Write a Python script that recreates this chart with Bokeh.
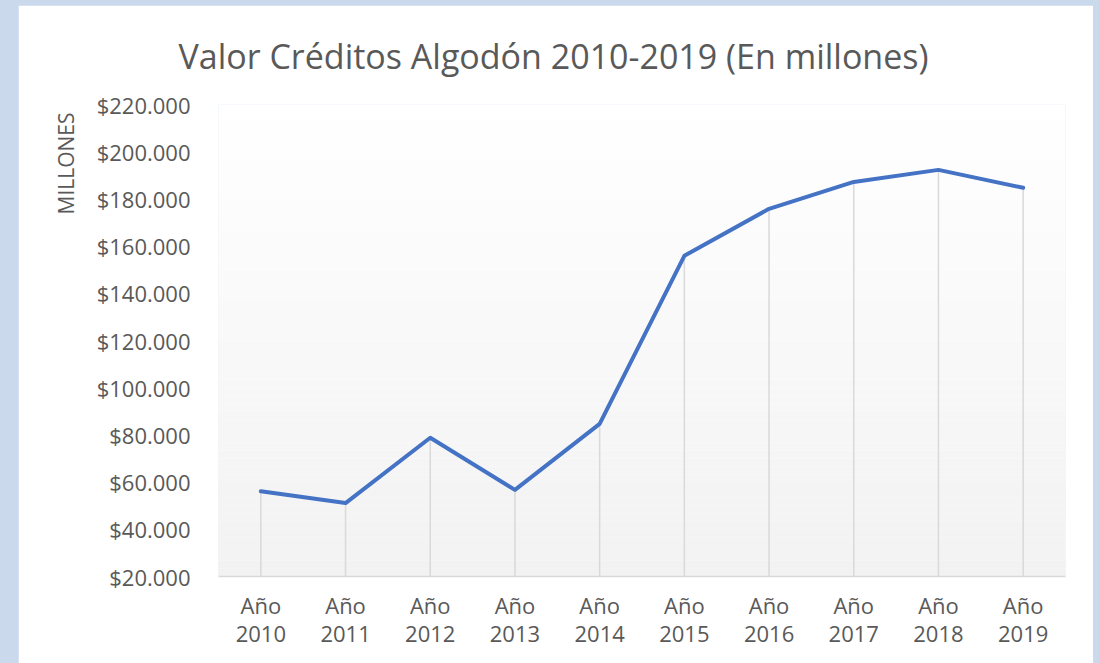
import numpy as np
from bokeh.plotting import figure
from bokeh.models import (Range1d, FixedTicker, Spacer, Row, Column,
                          GlobalInlineStyleSheet, ColumnDataSource, Title)
from bokeh.embed import file_html
from bokeh.resources import INLINE

# ---- data ----
years = ["Año\n2010", "Año\n2011", "Año\n2012", "Año\n2013", "Año\n2014",
         "Año\n2015", "Año\n2016", "Año\n2017", "Año\n2018", "Año\n2019"]
values = [56100, 51100, 78800, 56700, 84700, 155900, 175800, 187200, 192300, 184700]
y_ticks = [20000, 40000, 60000, 80000, 100000, 120000, 140000, 160000, 180000, 200000, 220000]
y_tick_labels = ["$20.000", "$40.000", "$60.000", "$80.000", "$100.000", "$120.000",
                 "$140.000", "$160.000", "$180.000", "$200.000", "$220.000"]
title_text = "Valor Créditos Algodón 2010-2019 (En millones)"
y_title = "MILLONES"

FONT = "Open Sans"
TXT = "#595959"
Y0, Y1 = y_ticks[0], y_ticks[-1]
W, H = 1075, 658

p = figure(x_range=years, y_range=Range1d(Y0, Y1), width=W, height=H,
           output_backend="svg", toolbar_location=None,
           min_border_left=200, min_border_right=28, min_border_top=99, min_border_bottom=87,
           background_fill_color="white", border_fill_color="white")
p.outline_line_color = None
p.grid.visible = False

p.title = Title(text=title_text, align="left", offset=-40, vertical_align="top",
                text_font=FONT, text_font_size="34px", text_font_style="normal",
                text_color=TXT, standoff=48)

# gradient plot-area background (white top -> light gray bottom)
n = 60
edges = np.linspace(Y0, Y1, n + 1)
cols = []
for i in range(n):
    t = (i + 0.5) / n
    c = int(round(242 + (255 - 242) * t))
    cols.append("#%02x%02x%02x" % (c, c, c))
p.quad(left=0, right=len(years), bottom=edges[:-1], top=edges[1:], fill_color=cols,
       line_color=None, level="underlay")

src = ColumnDataSource(dict(x=years, y=values, y0=[Y0] * len(years)))
p.segment(x0="x", y0="y0", x1="x", y1="y", source=src, line_color="#d9d9d9", line_width=1.5)
p.line(x="x", y="y", source=src, line_color="#4472C4", line_width=4, line_join="round",
       line_cap="round")

# axes
p.yaxis.ticker = FixedTicker(ticks=y_ticks)
p.yaxis.major_label_overrides = {t: l for t, l in zip(y_ticks, y_tick_labels)}
p.yaxis.axis_line_color = None
p.yaxis.major_tick_line_color = None
p.yaxis.minor_tick_line_color = None
p.yaxis.major_tick_out = 0
p.yaxis.major_label_standoff = 28
p.yaxis.major_label_text_font = FONT
p.yaxis.major_label_text_font_size = "22px"
p.yaxis.major_label_text_color = TXT

p.add_layout(Title(text=y_title, align="right", offset=8, standoff=27,
                   text_font=FONT, text_font_size="21px", text_font_style="normal",
                   text_color=TXT), "left")

p.xaxis.axis_line_color = "#d9d9d9"
p.xaxis.axis_line_width = 1.5
p.xaxis.major_tick_line_color = None
p.xaxis.minor_tick_line_color = None
p.xaxis.major_tick_out = 0
p.xaxis.major_label_standoff = 13
p.xaxis.major_label_text_font = FONT
p.xaxis.major_label_text_font_size = "22px"
p.xaxis.major_label_text_line_height = 0.94
p.xaxis.major_label_text_color = TXT

layout = Column(Spacer(width=W, height=5), Row(Spacer(width=18, height=H), p),
                spacing=0,
                stylesheets=[GlobalInlineStyleSheet(css="html, body { background-color: #cbd9ec; }")])

open("out.html", "w").write(file_html(layout, INLINE))
